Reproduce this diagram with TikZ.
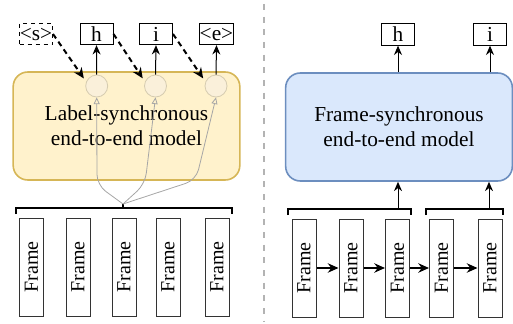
\documentclass[tikz,border=0pt]{standalone}
\usepackage{fontspec}
\setmainfont{Liberation Serif}
\usetikzlibrary{arrows.meta}

\definecolor{labelfill}{HTML}{FFF2CC}
\definecolor{labeldraw}{HTML}{D6B656}
\definecolor{framefill}{HTML}{DAE8FC}
\definecolor{framedraw}{HTML}{6C8EBF}
\definecolor{attfill}{HTML}{FAF0DA}
\definecolor{attdraw}{HTML}{D6CCB0}
\definecolor{fangray}{HTML}{A6A6A6}
\definecolor{sepgray}{HTML}{B3B3B3}

\begin{document}
\begin{tikzpicture}[x=0.75pt, y=-0.75pt, >={Stealth[length=7pt, width=6pt]}]
    \tikzstyle{model}=[rounded corners=11pt, line width=1.2pt, minimum width=170pt, minimum height=81pt, align=center, font=\fontsize{16}{19}\selectfont]
    \tikzstyle{token}=[draw, line width=0.75pt, minimum width=24.75pt, minimum height=16pt, inner sep=0pt, font=\fontsize{16}{16}\selectfont]
    \tikzstyle{frm}=[draw=black!80, line width=0.75pt, rotate=90, minimum width=73.5pt, minimum height=18pt, inner sep=0pt, font=\fontsize{15}{15}\selectfont]
    \tikzstyle{att}=[circle, draw=attdraw, fill=attfill, line width=0.6pt, minimum size=16.5pt, inner sep=0pt]
    \tikzstyle{bracket}=[line width=1.5pt]
    \tikzstyle{fan}=[draw=fangray, line width=0.6pt, rounded corners=8pt, -{Triangle[open, length=5pt, width=4.5pt]}]
    \tikzstyle{feed}=[line width=1.5pt, dash pattern=on 4pt off 3pt, -{Stealth[length=8pt, width=7pt]}]
    \tikzstyle{uparrow}=[line width=0.75pt, ->]
    \tikzstyle{nextarrow}=[line width=1.5pt, -{Stealth[length=8pt, width=7pt]}]

    \useasboundingbox (0,0) rectangle (513,324);

    % Label-synchronous model (left)
    \node[model, draw=labeldraw, fill=labelfill] (lmodel) at (126.5,126) {Label-synchronous\\end-to-end model};
    \node[att] (c1) at (96.7,86) {};
    \node[att] (c2) at (155.5,86) {};
    \node[att] (c3) at (216,86) {};

    \node[token, dashed] (ls) at (36,34) {\textless{}s\textgreater{}};
    \node[token] (lh) at (96.5,34) {h};
    \node[token] (li) at (156,34) {i};
    \node[token] (le) at (216.5,34) {\textless{}e\textgreater{}};

    \node[frm] (lf1) at (31.5,267) {Frame};
    \node[frm] (lf2) at (78,267) {Frame};
    \node[frm] (lf3) at (124,267) {Frame};
    \node[frm] (lf4) at (168,267) {Frame};
    \node[frm] (lf5) at (217,267) {Frame};

    \draw[bracket] (16,214) |- (232,208) -- (232,214);
    \coordinate (lfan) at (123,204);
    \draw[bracket] (123,208) -- (lfan);

    % Fan-out to the attention points
    \draw[fan] (lfan) -- (97,185) -- (c1.south);
    \draw[fan] (lfan) -- (145,184) -- (c2.south);
    \draw[fan] (lfan) -- (196,180) -- (c3.south);

    % Previous tokens fed back, outputs up
    \path
      (ls.east) edge[feed, shorten >=3pt] (c1.158)
      (lh.east) edge[feed, shorten >=3pt] (c2.158)
      (li.east) edge[feed, shorten >=3pt] (c3.158)
      (c1.north) edge[uparrow] (lh.south)
      (c2.north) edge[uparrow] (li.south)
      (c3.north) edge[uparrow] (le.south);

    % Separator
    \draw[sepgray, line width=1.5pt, dash pattern=on 4.5pt off 5pt] (264,4) -- (264,321);

    % Frame-synchronous model (right)
    \node[model, draw=framedraw, fill=framefill] (rmodel) at (399,127) {Frame-synchronous\\end-to-end model};

    \node[token] (rh) at (398,34.5) {h};
    \node[token] (ri) at (490,34.5) {i};

    \node[frm] (rf1) at (304,268) {Frame};
    \node[frm] (rf2) at (351,268) {Frame};
    \node[frm] (rf3) at (397.5,268) {Frame};
    \node[frm] (rf4) at (441.5,268) {Frame};
    \node[frm] (rf5) at (490,268) {Frame};

    \draw[bracket] (288,215) |- (411,209) -- (411,215);
    \draw[bracket] (426,215) |- (503,209) -- (503,215);
    \coordinate (rb1) at (398,209);
    \coordinate (rb2) at (489,209);

    \path
      (rb1) edge[uparrow] (rb1 |- rmodel.south)
      (rb2) edge[uparrow] (rb2 |- rmodel.south)
      (rmodel.north -| rh) edge[uparrow] (rh.south)
      (rmodel.north -| ri) edge[uparrow] (ri.south);

    % Frame-by-frame recurrence
    \path
      (rf1.south) edge[nextarrow] (rf2.north)
      (rf2.south) edge[nextarrow] (rf3.north)
      (rf3.south) edge[nextarrow] (rf4.north)
      (rf4.south) edge[nextarrow] (rf5.north);
\end{tikzpicture}
\end{document}
